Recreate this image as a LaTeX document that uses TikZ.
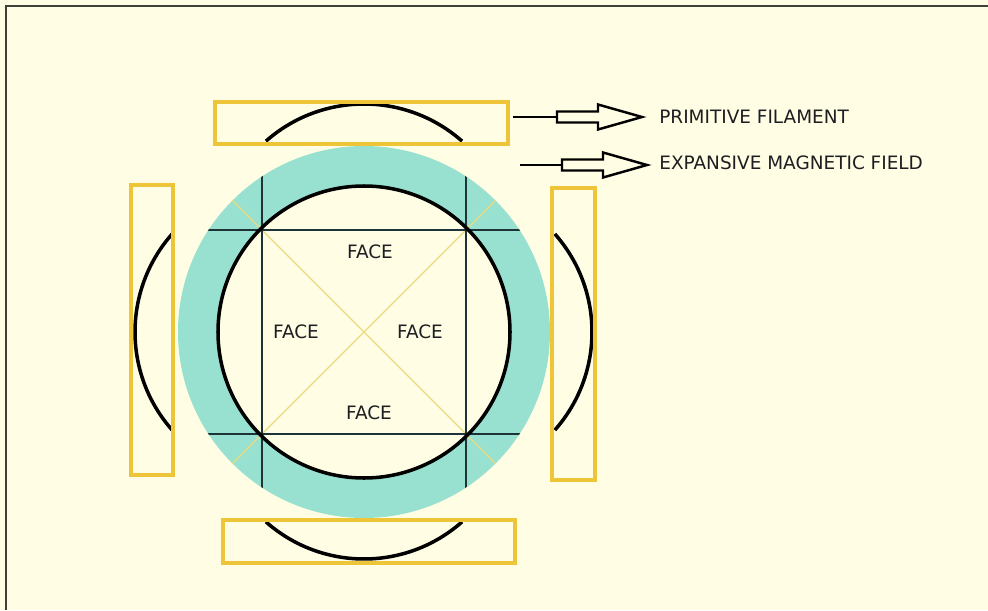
\documentclass[tikz,border=0pt]{standalone}
\usepackage{fontspec}
\setmainfont{DejaVu Sans}
\usetikzlibrary{calc}
\definecolor{paper}{RGB}{255,254,229}
\definecolor{ringteal}{RGB}{152,225,208}
\definecolor{frame}{RGB}{64,64,58}
\definecolor{gold}{RGB}{238,197,56}
\definecolor{diag}{RGB}{236,218,128}
\definecolor{grid}{RGB}{28,52,56}
\definecolor{ink}{RGB}{30,30,34}

\tikzset{
  magnet/.style={draw=gold,line width=2pt},
  filament/.style={black,line width=2pt},
  facelabel/.style={ink,font=\fontsize{10.5}{12}\selectfont,inner sep=0pt},
  sidelabel/.style={ink,font=\fontsize{10.5}{12}\selectfont,inner sep=0pt,anchor=west},
  hollow/.style={draw=black,fill=paper,line width=1.4pt,line join=miter}
}

\begin{document}
\begin{tikzpicture}[x=0.02cm,y=0.02cm]
  \useasboundingbox (0,0) rectangle (988,610);
  \fill[paper] (0,0) rectangle (988,610);
  \draw[frame,line width=1.3pt] (6,0) -- (6,604) -- (988,604);

  % ring with the square of faces
  \coordinate (c) at (364,278);
  \fill[ringteal,even odd rule] (c) circle (186) (c) circle (146);
  \begin{scope}
    \clip (c) circle (186);
    \draw[diag,line width=0.75pt] ($(c)+(-200,-200)$) -- ($(c)+(200,200)$);
    \draw[diag,line width=0.75pt] ($(c)+(-200,200)$) -- ($(c)+(200,-200)$);
    \draw[grid,line width=0.85pt] (100,176) -- (620,176) (100,380) -- (620,380);
    \draw[grid,line width=0.85pt] (262,50) -- (262,520) (466,50) -- (466,520);
  \end{scope}
  \draw[black,line width=2pt] (c) circle (146);

  \node[facelabel] (ftop) at (370,358) {FACE};
  \node[facelabel] (fleft) at (296,278) {FACE};
  \node[facelabel] (fright) at (420,278) {FACE};
  \node[facelabel] (fbot) at (369,197) {FACE};

  % filament arcs
  \draw[filament] ($(364,358)+(48.5:148)$) arc (48.5:131.5:148);
  \draw[filament] ($(364,199)+(228.5:148)$) arc (228.5:311.5:148);
  \draw[filament] ($(283,278)+(138.5:148)$) arc (138.5:221.5:148);
  \draw[filament] ($(444,278)+(-41.5:148)$) arc (-41.5:41.5:148);

  % magnets
  \draw[magnet] (215,466) rectangle (508,508);
  \draw[magnet] (131,135) rectangle (173,425);
  \draw[magnet] (552,130) rectangle (595,422);
  \draw[magnet] (223,47) rectangle (515,90);

  % legend
  \node[sidelabel] (prim) at (659,493) {PRIMITIVE FILAMENT};
  \node[sidelabel] (expan) at (659,447) {EXPANSIVE MAGNETIC FIELD};
  \coordinate (p0) at (513,493);
  \coordinate (e0) at (520,445);

  \draw[black,line width=1.6pt] (p0) -- ++(46,0);
  \draw[hollow] ($(p0)+(44,5.5)$) -- ++(41,0) -- ++(0,7) -- ($(p0)+(129,0)$)
    -- ($(p0)+(85,-12.5)$) -- ++(0,7) -- ++(-41,0) -- cycle;
  \draw[black,line width=1.6pt] (e0) -- ++(44,0);
  \draw[hollow] ($(e0)+(42,5.5)$) -- ++(41,0) -- ++(0,7) -- ($(e0)+(127,0)$)
    -- ($(e0)+(83,-12.5)$) -- ++(0,7) -- ++(-41,0) -- cycle;
\end{tikzpicture}
\end{document}
